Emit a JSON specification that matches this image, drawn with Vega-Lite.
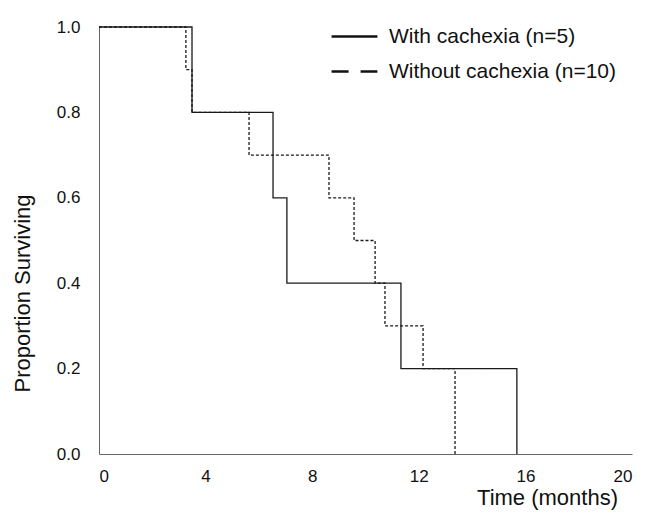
{
  "$schema": "https://vega.github.io/schema/vega-lite/v6.json",
  "width": 533,
  "height": 427,
  "autosize": {"type": "none"},
  "padding": {"left": 99, "top": 27, "right": 13, "bottom": 60},
  "background": "white",
  "config": {
    "view": {"stroke": null},
    "font": "Liberation Sans",
    "axis": {"grid": false, "ticks": false, "domainColor": "#666", "domainWidth": 1, "labelColor": "#111", "titleColor": "#111", "labelFont": "Liberation Sans", "titleFont": "Liberation Sans", "titleFontWeight": "normal"}
  },
  "data": {
    "values": [
      {"group": "With cachexia (n=5)", "time": 0, "surv": 1.0},
      {"group": "With cachexia (n=5)", "time": 3.49, "surv": 0.8},
      {"group": "With cachexia (n=5)", "time": 6.53, "surv": 0.6},
      {"group": "With cachexia (n=5)", "time": 7.05, "surv": 0.4},
      {"group": "With cachexia (n=5)", "time": 11.33, "surv": 0.2},
      {"group": "With cachexia (n=5)", "time": 15.68, "surv": 0.0},
      {"group": "Without cachexia (n=10)", "time": 0, "surv": 1.0},
      {"group": "Without cachexia (n=10)", "time": 3.26, "surv": 0.9},
      {"group": "Without cachexia (n=10)", "time": 3.49, "surv": 0.8},
      {"group": "Without cachexia (n=10)", "time": 5.63, "surv": 0.7},
      {"group": "Without cachexia (n=10)", "time": 8.63, "surv": 0.6},
      {"group": "Without cachexia (n=10)", "time": 9.57, "surv": 0.5},
      {"group": "Without cachexia (n=10)", "time": 10.36, "surv": 0.4},
      {"group": "Without cachexia (n=10)", "time": 10.73, "surv": 0.3},
      {"group": "Without cachexia (n=10)", "time": 12.16, "surv": 0.2},
      {"group": "Without cachexia (n=10)", "time": 13.36, "surv": 0.0}
    ]
  },
  "encoding": {
    "x": {
      "field": "time", "type": "quantitative",
      "scale": {"domain": [0, 20], "nice": false},
      "axis": {"values": [0, 4, 8, 12, 16, 20], "labelFontSize": 17, "labelPadding": 14, "title": "Time (months)", "titleFontSize": 22, "titleX": 448, "titleY": 43, "titleAlign": "center", "titleBaseline": "middle"}
    },
    "y": {
      "field": "surv", "type": "quantitative",
      "scale": {"domain": [0, 1], "nice": false},
      "axis": {"values": [0, 0.2, 0.4, 0.6, 0.8, 1.0], "format": ".1f", "labelFontSize": 17, "labelPadding": 19, "title": "Proportion Surviving", "titleFontSize": 22, "titleX": -77, "titleY": 266, "titleAngle": -90, "titleAlign": "center", "titleBaseline": "middle"}
    }
  },
  "layer": [
    {
      "mark": {"type": "line", "interpolate": "step-after", "color": "#111111", "strokeWidth": 1, "opacity": 0},
      "encoding": {
        "strokeDash": {
          "field": "group", "type": "nominal",
          "scale": {"domain": ["With cachexia (n=5)", "Without cachexia (n=10)"], "range": [[1, 0], [17, 12]]},
          "legend": {
            "title": null,
            "orient": "none",
            "legendX": 231,
            "legendY": -15,
            "symbolType": "stroke",
            "symbolSize": 2100,
            "symbolStrokeWidth": 2.5,
            "symbolStrokeColor": "#111",
            "symbolOpacity": 1,
            "labelFontSize": 21,
            "labelFont": "Liberation Sans",
            "labelColor": "#111",
            "labelLimit": 400,
            "labelOffset": 10,
            "rowPadding": -9
          }
        }
      }
    },
    {
      "mark": {"type": "line", "interpolate": "step-after", "color": "#1a1a1a", "strokeWidth": 1.3},
      "encoding": {
        "strokeDash": {
          "field": "group", "type": "nominal",
          "scale": {"domain": ["With cachexia (n=5)", "Without cachexia (n=10)"], "range": [[1, 0], [3, 2]]},
          "legend": null
        }
      }
    }
  ],
  "resolve": {"scale": {"strokeDash": "independent"}, "legend": {"strokeDash": "independent"}}
}
